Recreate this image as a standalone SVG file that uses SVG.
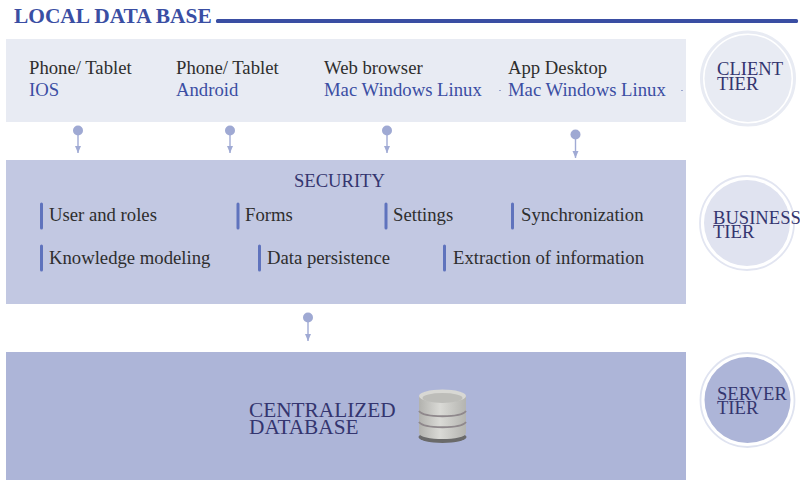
<svg xmlns="http://www.w3.org/2000/svg" width="800" height="480" viewBox="0 0 800 480">
<defs>
<marker id="arr" markerUnits="userSpaceOnUse" markerWidth="8" markerHeight="7" refX="7" refY="3" orient="auto"><path d="M0 0L7 3L0 6Z" fill="#a0aad4"/></marker>
<linearGradient id="dbg" x1="0" x2="1" y1="0" y2="0"><stop offset="0" stop-color="#b2b2ae"/><stop offset=".45" stop-color="#dadad6"/><stop offset="1" stop-color="#b4b4b0"/></linearGradient>
<filter id="soft" x="-10%" y="-10%" width="120%" height="120%"><feGaussianBlur stdDeviation=".5"/></filter>
</defs>
<style>
text{font-family:"Liberation Serif","Times New Roman",serif;}
.t{font-size:18.7px;fill:#2e2e2e}
.b{font-size:18.7px;fill:#3b4ea3}
.u{font-size:21.3px;fill:#34356f}
.s{font-size:18.6px;fill:#34356f}
.tick{stroke:#5f73bd;stroke-width:3;stroke-linecap:round}
.c{stroke:#a0aad4;stroke-width:1.4;fill:none;marker-end:url(#arr)}
.d{fill:#9fa9d3}
</style>
<rect width="800" height="480" fill="#fff"/>
<g id="title">
<text x="14" y="23" font-size="21.400" font-weight="bold" fill="#3a4ea3">LOCAL DATA BASE</text>
<rect x="216" y="19" width="582" height="4" rx="1.500" fill="#3a4ea3"/>
</g>
<g id="client-panel">
<rect x="6" y="39" width="680" height="83" fill="#e8ebf3"/>
<text class="t" x="29" y="74">Phone/ Tablet</text><text class="b" x="29" y="96">IOS</text>
<text class="t" x="176" y="74">Phone/ Tablet</text><text class="b" x="176" y="96">Android</text>
<text class="t" x="324" y="74">Web browser</text><text class="b" x="324" y="96">Mac Windows Linux</text>
<text class="t" x="508" y="74">App Desktop</text><text class="b" x="508" y="96">Mac Windows Linux</text>
<circle cx="500" cy="90.500" r=".6" fill="#3b4ea3"/><circle cx="682" cy="90.500" r=".6" fill="#3b4ea3"/>
</g>
<g id="business-panel">
<rect x="6" y="160" width="680" height="144" fill="#c2c8e2"/>
<text class="s" x="294" y="187">SECURITY</text>
<line class="tick" x1="41.500" y1="204" x2="41.500" y2="228"/><text class="t" x="49" y="221">User and roles</text>
<line class="tick" x1="238" y1="204" x2="238" y2="228"/><text class="t" x="245" y="221">Forms</text>
<line class="tick" x1="386" y1="204" x2="386" y2="228"/><text class="t" x="393" y="221">Settings</text>
<line class="tick" x1="512.500" y1="204" x2="512.500" y2="228"/><text class="t" x="521" y="221">Synchronization</text>
<line class="tick" x1="41.500" y1="246" x2="41.500" y2="270"/><text class="t" x="49" y="264">Knowledge modeling</text>
<line class="tick" x1="259.500" y1="246" x2="259.500" y2="270"/><text class="t" x="267" y="264">Data persistence</text>
<line class="tick" x1="444.500" y1="246" x2="444.500" y2="270"/><text class="t" x="453" y="264">Extraction of information</text>
</g>
<g id="server-panel">
<rect x="6" y="352" width="680" height="128" fill="#adb5d8"/>
<text class="u" x="249" y="417">CENTRALIZED</text>
<text class="u" x="249" y="434">DATABASE</text>
</g>
<g id="database-icon" filter="url(#soft)">
<ellipse cx="442.500" cy="437" rx="24" ry="6" fill="#6a6a6a"/>
<path d="M419 396V433C419 441 466 441 466 433V396Z" fill="url(#dbg)"/>
<ellipse cx="442.500" cy="396" rx="23.500" ry="6.500" fill="#d8d8d4"/>
<ellipse cx="442.500" cy="398" rx="20" ry="5" fill="#bdbdb9"/>
<path d="M419 411C424 418 461 418 466 411" fill="none" stroke="#8f888c" stroke-width="2"/>
<path d="M419 422C424 429 461 429 466 422" fill="none" stroke="#8f888c" stroke-width="2"/>
</g>
<g id="connectors">
<circle class="d" cx="78" cy="130.500" r="5"/><line class="c" x1="78" y1="131" x2="78" y2="153"/>
<circle class="d" cx="230" cy="130.500" r="5"/><line class="c" x1="230" y1="131" x2="230" y2="153"/>
<circle class="d" cx="387" cy="130.500" r="5"/><line class="c" x1="387" y1="131" x2="387" y2="153"/>
<circle class="d" cx="575.500" cy="134.500" r="5"/><line class="c" x1="575.500" y1="135" x2="575.500" y2="158"/>
<circle class="d" cx="308" cy="317.500" r="5"/><line class="c" x1="308" y1="318" x2="308" y2="341"/>
</g>
<g id="client-tier">
<circle cx="748" cy="78.500" r="46.500" fill="#fff" stroke="#e8ebf3" stroke-width="3"/>
<circle cx="748" cy="78.500" r="43.500" fill="#e8ebf3"/>
<text class="s" x="717" y="75">CLIENT</text><text class="s" x="717" y="90">TIER</text>
</g>
<g id="business-tier">
<circle cx="747" cy="223" r="47" fill="#fff" stroke="#e2e5f1" stroke-width="1.800"/>
<circle cx="747" cy="223" r="43" fill="#e0e3f0"/>
<text class="s" x="713" y="224">BUSINESS</text><text class="s" x="713" y="238">TIER</text>
</g>
<g id="server-tier">
<circle cx="747.500" cy="400" r="47" fill="#fff" stroke="#dfe3f0" stroke-width="1.800"/>
<circle cx="747.500" cy="400" r="43" fill="#adb5d8"/>
<text class="s" x="717" y="400">SERVER</text><text class="s" x="717" y="414">TIER</text>
</g>
</svg>
